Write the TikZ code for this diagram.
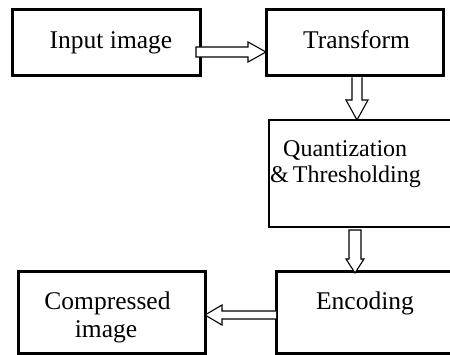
\documentclass[tikz,border=0pt]{standalone}
\usepackage{fontspec}
\setmainfont{Liberation Serif}
\usetikzlibrary{calc}
\begin{document}
\begin{tikzpicture}[x=1pt,y=-1pt,
  box/.style={draw=black,line width=3pt,minimum width=#1,inner sep=0pt,outer sep=0pt},
  thinbox/.style={draw=black,line width=1.3pt,inner sep=0pt,outer sep=0pt},
  lbl/.style={anchor=base,inner sep=0pt,font=\fontsize{25.5}{27}\selectfont},
  qlbl/.style={anchor=base west,inner sep=0pt,font=\fontsize{24}{26}\selectfont},
  blk/.style={draw=black,line width=1.1pt,fill=white,line join=miter}]
\useasboundingbox (0,0) rectangle (450,355);
\clip (0,0) rectangle (450,355);
\fill[white] (0,0) rectangle (450,355);
% boxes
\node[box=188pt,minimum height=66pt] (in) at (106,43) {};
\node[box=177pt,minimum height=66pt] (tr) at (354.5,43) {};
\node[thinbox,minimum width=201pt,minimum height=107pt] (q) at (369.5,173.5) {};
\node[box=204pt,minimum height=82pt] (en) at (378,313) {};
\node[box=187pt,minimum height=82pt] (cp) at (111.5,313) {};
% texts
\node[lbl] (tin) at (111,49) {Input image};
\node[lbl] (ttr) at (356.5,49) {Transform};
\node[qlbl] (tq1) at (283,157) {Quantization};
\node[qlbl] (tq2) at (270,183) {\&\,Thresholding};
\node[lbl] (ten) at (365,310) {Encoding};
\node[lbl] (tc1) at (107.5,310) {Compressed};
\node[lbl] (tc2) at (106,338) {image};
% arrow 1: input -> transform
\coordinate (a1s) at ($(in.east)+(-4,9)$);
\coordinate (a1t) at (a1s -| tr.west);
\draw[blk] ($(a1s)+(0,-5)$) -- ($(a1t)+(-18,-5)$) -- ($(a1t)+(-18,-10)$) -- (a1t)
  -- ($(a1t)+(-18,10)$) -- ($(a1t)+(-18,5)$) -- ($(a1s)+(0,5)$) -- cycle;
% arrow 2: transform -> quantization
\coordinate (a2s) at ($(tr.south)+(2.5,1.5)$);
\coordinate (a2t) at (a2s |- q.north);
\draw[blk] ($(a2s)+(-5,0)$) -- ($(a2t)+(-5,-20)$) -- ($(a2t)+(-11,-20)$) -- (a2t)
  -- ($(a2t)+(11,-20)$) -- ($(a2t)+(5,-20)$) -- ($(a2s)+(5,0)$);
% arrow 3: quantization -> encoding
\coordinate (a3s) at ($(a2s |- q.south)+(-2,3)$);
\coordinate (a3t) at ($(a3s |- en.north)+(0,1)$);
\draw[blk] ($(a3s)+(-6,0)$) -- ($(a3t)+(-6,-14)$) -- ($(a3t)+(-9,-14)$) -- (a3t)
  -- ($(a3t)+(9,-14)$) -- ($(a3t)+(6,-14)$) -- ($(a3s)+(6,0)$) -- cycle;
% arrow 4: encoding -> compressed image
\coordinate (a4s) at ($(en.west)+(0,2)$);
\coordinate (a4t) at (a4s -| cp.east);
\draw[blk] ($(a4s)+(0,-4)$) -- ($(a4t)+(17,-4)$) -- ($(a4t)+(17,-10)$) -- (a4t)
  -- ($(a4t)+(17,10)$) -- ($(a4t)+(17,4)$) -- ($(a4s)+(0,4)$);
\end{tikzpicture}
\end{document}
